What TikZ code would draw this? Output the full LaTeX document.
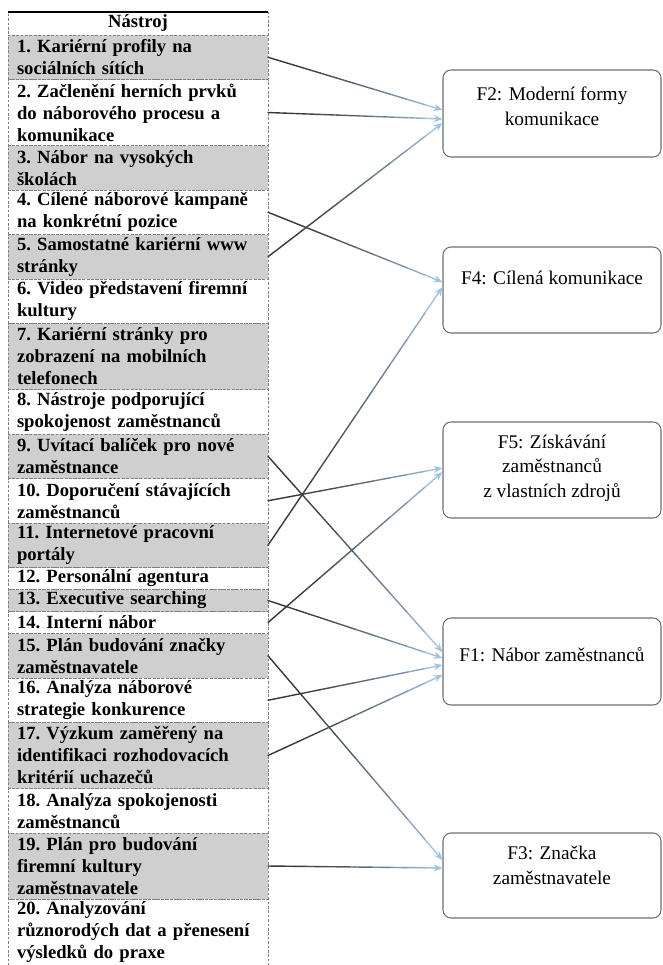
\documentclass[tikz,border=0pt]{standalone}
\usepackage{fontspec}
\setmainfont{Liberation Serif}
\usetikzlibrary{arrows.meta,positioning,calc}

\definecolor{cellgrey}{RGB}{207,207,207}
\definecolor{dashgrey}{RGB}{128,128,128}
\definecolor{boxgrey}{RGB}{110,110,110}
\definecolor{linkdark}{RGB}{55,55,60}
\definecolor{linklight}{RGB}{157,195,230}

\tikzset{
  cell/.style={draw=dashgrey, dash pattern=on 1.5pt off 1pt, line width=0.5pt,
    text width=4.84cm, inner xsep=0.18cm, inner ysep=-1.5pt, outer sep=0pt, align=left,
    font=\fontsize{10.6}{12.5}\selectfont\bfseries,
    execute at begin node={\frenchspacing\hyphenpenalty=10000 }},
  tint/.style={fill=cellgrey},
  ln1/.style={minimum height=0.44cm},
  ln2/.style={minimum height=0.89cm},
  ln3/.style={minimum height=1.32cm},
  goal/.style={draw=boxgrey, line width=0.6pt, rounded corners=0.16cm,
    minimum width=4.36cm, align=center, font=\fontsize{11}{14}\selectfont},
  conn/.style={line width=0.8pt, line cap=round}
}

% spojnice: tmava u tabulky, svetle modra u cile
\newcommand{\vazba}[2]{%
  \foreach \k in {0,...,8}{%
    \pgfmathtruncatemacro{\pc}{100*(\k/9)^1.6}%
    \pgfmathsetmacro{\za}{\k/10}%
    \pgfmathsetmacro{\zb}{\k/10+0.1}%
    \draw[conn, linklight!\pc!linkdark] ($(#1)!\za!(#2)$) -- ($(#1)!\zb!(#2)$);
  }%
  \draw[conn, linklight, -{Stealth[length=5pt,width=4pt]}]
    ($(#1)!0.9!(#2)$) -- (#2);
}

\begin{document}
\begin{tikzpicture}
  \useasboundingbox (0,0) rectangle (13.24,-19.3);

  \node[cell, align=center, minimum height=0.46cm, anchor=north west] (hdr) at (0.16,-0.24) {Nástroj};
  \node[cell, tint, ln2, below=0pt of hdr] (r1) {1. Kariérní profily na\\sociálních sítích};
  \node[cell, ln3, below=0pt of r1] (r2) {2. Začlenění herních prvků\\do náborového procesu a\\komunikace};
  \node[cell, tint, ln2, below=0pt of r2] (r3) {3. Nábor na vysokých\\školách};
  \node[cell, ln2, below=0pt of r3] (r4) {4. Cílené náborové kampaně\\na konkrétní pozice};
  \node[cell, tint, ln2, below=0pt of r4] (r5) {5. Samostatné kariérní www\\stránky};
  \node[cell, ln2, below=0pt of r5] (r6) {6. Video představení firemní\\kultury};
  \node[cell, tint, ln3, below=0pt of r6] (r7) {7. Kariérní stránky pro\\zobrazení na mobilních\\telefonech};
  \node[cell, ln2, below=0pt of r7] (r8) {8. Nástroje podporující\\spokojenost zaměstnanců};
  \node[cell, tint, ln2, below=0pt of r8] (r9) {9. Uvítací balíček pro nové\\zaměstnance};
  \node[cell, ln2, below=0pt of r9] (r10) {10. Doporučení stávajících\\zaměstnanců};
  \node[cell, tint, ln2, below=0pt of r10] (r11) {11. Internetové pracovní\\portály};
  \node[cell, ln1, below=0pt of r11] (r12) {12. Personální agentura};
  \node[cell, tint, ln1, below=0pt of r12] (r13) {13. Executive searching};
  \node[cell, ln1, below=0pt of r13] (r14) {14. Interní nábor};
  \node[cell, tint, ln2, below=0pt of r14] (r15) {15. Plán budování značky\\zaměstnavatele};
  \node[cell, ln2, below=0pt of r15] (r16) {16. Analýza náborové\\strategie konkurence};
  \node[cell, tint, ln3, below=0pt of r16] (r17) {17. Výzkum zaměřený na\\identifikaci rozhodovacích\\kritérií uchazečů};
  \node[cell, ln2, below=0pt of r17] (r18) {18. Analýza spokojenosti\\zaměstnanců};
  \node[cell, tint, ln3, below=0pt of r18] (r19) {19. Plán pro budování\\firemní kultury\\zaměstnavatele};
  \node[cell, ln3, below=0pt of r19] (r20) {20. Analyzování\\různorodých dat a přenesení\\výsledků do praxe};
  \draw[line width=1.2pt] (hdr.north west) -- (hdr.north east);

  % prazdny radek na konci posune text v ramecku nahoru
  \node[goal, minimum height=1.74cm] (f2) at (11.04,-2.27) {F2: Moderní formy\\komunikace\\[-0.21cm]\mbox{}};
  \node[goal, minimum height=1.72cm] (f4) at (11.04,-5.8) {F4: Cílená komunikace\\\mbox{}};
  \node[goal, minimum height=1.92cm] (f5) at (11.04,-9.4) {F5: Získávání\\zaměstnanců\\z vlastních zdrojů\\[-0.33cm]\mbox{}};
  \node[goal, minimum height=1.74cm] (f1) at (11.04,-13.23) {F1: Nábor zaměstnanců\\[-0.23cm]\mbox{}};
  \node[goal, minimum height=1.70cm] (f3) at (11.04,-17.51) {F3: Značka\\zaměstnavatele\\[-0.09cm]\mbox{}};

  \vazba{r1.east}{[yshift=0.07cm]f2.west}
  \vazba{r2.east}{[yshift=-0.11cm]f2.west}
  \vazba{r5.east}{[yshift=-0.19cm]f2.west}
  \vazba{r4.east}{[yshift=0.16cm]f4.west}
  \vazba{r11.east}{[yshift=0.06cm]f4.west}
  \vazba{r10.east}{[yshift=0.04cm]f5.west}
  \vazba{r14.east}{[yshift=-0.04cm]f5.west}
  \vazba{r9.east}{[yshift=0.19cm]f1.west}
  \vazba{r13.east}{[yshift=0.07cm]f1.west}
  \vazba{r16.east}{[yshift=-0.07cm]f1.west}
  \vazba{r17.east}{[yshift=-0.27cm]f1.west}
  \vazba{r15.east}{[yshift=0.31cm]f3.west}
  \vazba{r19.east}{[yshift=0.15cm]f3.west}
\end{tikzpicture}
\end{document}
